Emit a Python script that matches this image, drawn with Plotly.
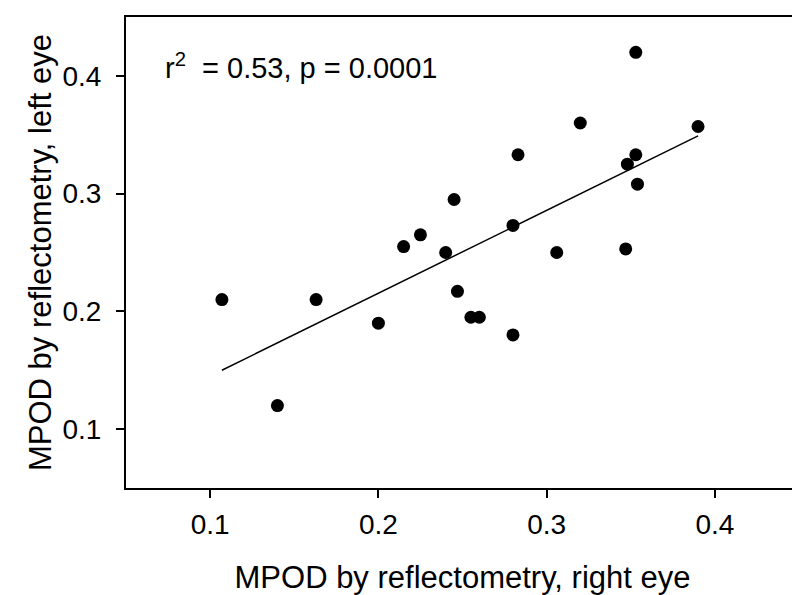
import plotly.graph_objects as go

# Data
right_eye = [0.107, 0.140, 0.163, 0.200, 0.215, 0.225, 0.240, 0.245, 0.247, 0.255, 0.260,
             0.280, 0.280, 0.283, 0.306, 0.320, 0.347, 0.348, 0.353, 0.354, 0.353, 0.390]
left_eye = [0.210, 0.120, 0.210, 0.190, 0.255, 0.265, 0.250, 0.295, 0.217, 0.195, 0.195,
            0.273, 0.180, 0.333, 0.250, 0.360, 0.253, 0.325, 0.333, 0.308, 0.420, 0.357]

fit_x = [0.107, 0.390]
fit_y = [0.150, 0.349]

tick_vals = [0.1, 0.2, 0.3, 0.4]
tick_text = ["0.1", "0.2", "0.3", "0.4"]

FONT = "Arial, 'Liberation Sans', sans-serif"

fig = go.Figure()
fig.add_trace(go.Scatter(x=fit_x, y=fit_y, mode="lines",
                         line=dict(color="black", width=1.5), showlegend=False))
fig.add_trace(go.Scatter(x=right_eye, y=left_eye, mode="markers",
                         marker=dict(color="black", size=13, line=dict(width=0)),
                         showlegend=False))

fig.add_annotation(x=0.072, y=0.408, xref="x", yref="y", xanchor="left", yanchor="middle",
                   text="r<sup>2</sup>&nbsp;&nbsp;= 0.53, p = 0.0001", showarrow=False,
                   font=dict(family=FONT, size=29, color="black"))

axis_common = dict(showline=True, linecolor="black", linewidth=2, mirror=True,
                   ticks="outside", ticklen=8, tickwidth=1.5, tickcolor="black",
                   showgrid=False, zeroline=False,
                   tickfont=dict(family=FONT, size=28, color="black"),
                   tickvals=tick_vals, ticktext=tick_text)

fig.update_xaxes(range=[0.05, 0.45], title=dict(text="MPOD by reflectometry, right eye",
                 font=dict(family=FONT, size=31, color="black"), standoff=28),
                 ticklabelstandoff=2, **axis_common)
fig.update_yaxes(range=[0.05, 0.45], title=dict(text="MPOD by reflectometry, left eye",
                 font=dict(family=FONT, size=31, color="black"), standoff=2),
                 ticklabelstandoff=9, **axis_common)

fig.update_layout(width=800, height=595, margin=dict(l=118, r=7, t=9, b=115),
                  plot_bgcolor="white", paper_bgcolor="white",
                  font=dict(family=FONT, color="black"))

fig.write_html("out.html")
